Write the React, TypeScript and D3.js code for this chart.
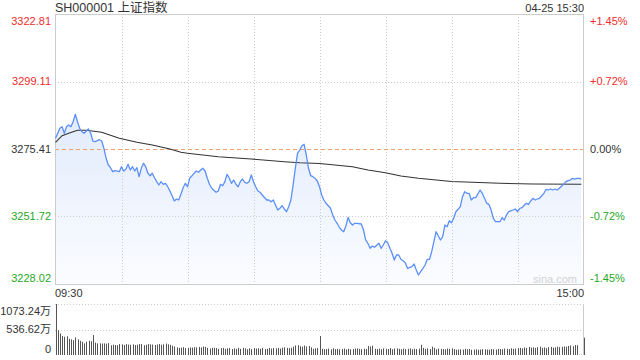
import * as d3 from 'd3';

const title = 'SH000001 上证指数';
const stamp = '04-25 15:30';
const priceTicks = [3322.81, 3299.11, 3275.41, 3251.72, 3228.02];
const pctTicks = ['+1.45%', '+0.72%', '0.00%', '-0.72%', '-1.45%'];
const timeTicks = ['09:30', '15:00'];
const volTicks = [1073.24, 536.62, 0];
const volLabels = ['1073.24万', '536.62万', '0'];
const prevClose = 3275.41;

// [minute since open, price]
const price: [number, number][] = [
  [0, 3279.17], [2, 3282.68], [3, 3283.24], [4, 3280.93], [5, 3283.24], [6, 3283.84], [7, 3283.24], [8, 3285.0], [9, 3287.6], [10, 3285.0],
  [11, 3282.68], [12, 3281.49], [13, 3280.93], [14, 3281.74], [15, 3282.44], [16, 3280.93], [17, 3278.22], [18, 3277.98], [20, 3278.68], [21, 3278.22],
  [22, 3275.66], [23, 3272.15], [24, 3269.8], [25, 3268.85], [26, 3267.45], [27, 3267.8], [29, 3267.45], [30, 3269.2], [31, 3267.69], [32, 3268.39],
  [33, 3270.04], [34, 3268.04], [35, 3269.2], [36, 3267.69], [37, 3268.85], [38, 3265.69], [39, 3268.64], [40, 3270.4], [41, 3269.2], [42, 3266.88],
  [43, 3266.04], [44, 3266.88], [45, 3265.34], [46, 3263.94], [47, 3262.78], [48, 3263.94], [49, 3263.02], [50, 3263.37], [51, 3262.18], [52, 3260.67],
  [53, 3259.02], [54, 3257.16], [55, 3257.86], [56, 3257.51], [57, 3259.51], [58, 3261.83], [59, 3263.37], [60, 3262.18],
  [61, 3265.13], [63, 3266.88], [64, 3267.69], [65, 3267.24], [66, 3268.04], [67, 3268.64], [68, 3267.69], [69, 3265.13], [70, 3263.02], [71, 3261.62],
  [73, 3260.21], [74, 3260.67], [75, 3263.02], [76, 3262.53], [77, 3263.94], [78, 3266.53], [79, 3265.13], [80, 3263.37], [81, 3264.53], [82, 3263.02],
  [83, 3262.18], [84, 3263.94], [85, 3264.88], [86, 3263.73], [87, 3263.37], [88, 3263.94], [89, 3266.29], [90, 3263.94], [91, 3262.18], [92, 3260.67],
  [93, 3260.22], [94, 3259.27], [96, 3257.51], [97, 3257.51], [98, 3256.91], [99, 3257.51], [100, 3255.76], [101, 3254.0], [102, 3254.6], [103, 3255.51],
  [104, 3254.35], [105, 3253.4], [106, 3255.16], [107, 3257.51], [108, 3262.78], [109, 3268.64], [110, 3273.91], [111, 3275.06], [112, 3276.57], [113, 3277.07],
  [114, 3273.31], [115, 3268.64], [116, 3266.04], [117, 3265.69], [118, 3265.13], [119, 3264.18], [120, 3262.18],
  [121, 3259.27], [122, 3257.51], [123, 3256.35], [125, 3254.6], [126, 3252.25], [127, 3250.49], [128, 3249.33], [129, 3247.93], [130, 3246.98], [131, 3246.38],
  [132, 3248.38], [133, 3251.44], [134, 3249.54], [135, 3248.73], [136, 3249.33], [137, 3249.33], [139, 3249.09], [140, 3246.98], [141, 3243.47], [142, 3242.31],
  [143, 3240.55], [144, 3241.36], [145, 3240.91], [147, 3242.31], [148, 3240.55], [149, 3241.71], [150, 3243.22], [151, 3242.52], [152, 3240.55], [153, 3238.8],
  [154, 3236.45], [155, 3238.2], [156, 3238.2], [157, 3236.69], [158, 3236.2], [159, 3235.5], [160, 3233.53], [162, 3234.09], [163, 3235.04], [164, 3232.94],
  [165, 3231.18], [166, 3232.34], [167, 3233.53], [168, 3234.69], [169, 3236.69], [170, 3236.69], [171, 3239.36], [172, 3242.87], [173, 3246.38], [174, 3244.87],
  [175, 3243.47], [176, 3244.63], [177, 3248.73], [178, 3248.14], [179, 3250.24], [180, 3249.54],
  [181, 3251.09], [182, 3253.4], [184, 3255.16], [185, 3258.67], [186, 3260.43], [187, 3259.86], [188, 3259.86], [189, 3257.51], [190, 3258.32], [191, 3258.32],
  [193, 3261.02], [194, 3259.86], [195, 3258.11], [196, 3256.35], [197, 3256.0], [198, 3254.0], [199, 3251.09], [200, 3249.89], [202, 3249.89], [203, 3251.3],
  [204, 3250.49], [205, 3252.25], [206, 3253.4], [208, 3254.0], [209, 3254.35], [210, 3253.4], [211, 3254.6], [212, 3254.81], [214, 3256.35], [215, 3256.0],
  [216, 3257.16], [217, 3258.11], [218, 3257.51], [219, 3257.86], [220, 3258.11], [222, 3259.86], [223, 3261.27], [224, 3261.02], [225, 3261.37], [226, 3261.02],
  [227, 3261.37], [228, 3261.02], [229, 3261.62], [231, 3263.02], [232, 3263.94], [233, 3264.29], [234, 3264.53], [235, 3265.13], [236, 3264.88], [237, 3265.13],
  [238, 3265.13], [239, 3264.88],
];

// average price line, [minute, price]
const avgPrice: [number, number][] = [
  [0, 3277.77], [3, 3280.09], [6, 3280.93], [10, 3281.98], [14, 3281.98], [21, 3281.28], [29, 3279.17], [37, 3277.77], [44, 3276.82],
  [52, 3275.42], [57, 3274.26], [60, 3273.91], [74, 3272.71], [89, 3271.9], [104, 3270.96], [111, 3270.61], [120, 3270.33],
  [135, 3269.2], [142, 3268.04], [150, 3267.1], [157, 3265.94], [165, 3265.13], [180, 3264.01], [202, 3263.37], [217, 3263.13], [239, 3263.02],
];

// volume per minute, 万
const volume = [
  1073.24,
  520, 450, 400, 385, 395, 340, 330, 315, 370, 330,
  300, 280, 245, 280, 300, 290, 420, 260, 245, 245,
  240, 245, 240, 250, 205, 215, 210, 205, 230, 225,
  210, 230, 220, 215, 225, 210, 215, 230, 230, 205,
  215, 230, 225, 220, 210, 220, 230, 215, 225, 240,
  225, 215, 195, 180, 160, 150, 155, 165, 145, 150,
  160, 155, 165, 160, 170, 160, 180, 170, 150, 135,
  150, 150, 145, 130, 145, 150, 130, 140, 145, 125,
  140, 130, 150, 130, 150, 140, 120, 140, 125, 145,
  135, 140, 130, 150, 125, 130, 150, 135, 145, 140,
  150, 135, 155, 160, 150, 140, 150, 175, 200, 205,
  185, 175, 200, 180, 190, 160, 130, 140, 145, 400,
  130, 120, 125, 135, 120, 140, 125, 130, 120, 125,
  135, 115, 130, 120, 125, 135, 140, 130, 125, 130,
  125, 190, 180, 195, 130, 125, 135, 120, 140, 130,
  125, 145, 120, 135, 140, 130, 120, 135, 125, 130,
  140, 120, 130, 125, 135, 215, 150, 130, 140, 125,
  175, 150, 120, 135, 130, 125, 120, 135, 130, 140,
  125, 110, 115, 120, 115, 130, 120, 125, 110, 115,
  120, 110, 115, 125, 120, 115, 110, 125, 120, 115,
  130, 125, 120, 135, 130, 125, 140, 130, 135, 145,
  150, 140, 160, 150, 170, 155, 160, 150, 165, 175,
  150, 160, 145, 165, 170, 155, 160, 175, 165, 170,
  180, 175, 190, 200, 185, 210, 205, 8, 6, 365,
];

const W = 640;
const H = 360;
const L = 55;
const R = 584;
const T = 14;
const B = 284;
const VT = 304;
const VB = 355;

const RED = '#f02c2c';
const GREEN = '#1fa81f';
const DARK = '#333';
const GRID = '#cccccc';
const FONT = '"Liberation Sans", Arial, "Noto Sans CJK SC", sans-serif';

export default function App() {
  const x = d3.scaleLinear().domain([0, 240]).range([L + 0.5, R - 0.5]);
  const y = d3.scaleLinear().domain([priceTicks[4], priceTicks[0]]).range([B, T]);
  const yv = d3.scaleLinear().domain([0, volTicks[0]]).range([VB, VT]);

  const line = d3.line<[number, number]>().x((d) => x(d[0])).y((d) => y(d[1]));
  const area = d3
    .area<[number, number]>()
    .x((d) => x(d[0]))
    .y0(B)
    .y1((d) => y(d[1]));

  const tone = (i: number) => (i < 2 ? RED : i > 2 ? GREEN : DARK);
  // labels at the edges sit inside the plot
  const labelY = (i: number) => (i === 0 ? T + 7 : i === 4 ? B - 6 : y(priceTicks[i]));
  const vLabelY = (i: number) => (i === 0 ? VT + 7 : i === 2 ? VB - 6 : yv(volTicks[i]));

  const vGrid = d3.range(30, 240, 30);

  return (
    <svg
      width={W}
      height={H}
      style={{ position: 'absolute', left: 0, top: 0, display: 'block' }}
      fontFamily={FONT}
    >
      <defs>
        <linearGradient id="fill" gradientUnits="userSpaceOnUse" x1="0" y1={T} x2="0" y2={B}>
          <stop offset="0" stopColor="#d3e2fb" />
          <stop offset="1" stopColor="#fbfcff" />
        </linearGradient>
      </defs>

      <rect x={0} y={0} width={W} height={H} fill="#fff" />

      <text x={L} y={8} dy="0.35em" fontSize={12.5} fill={DARK}>
        {title}
      </text>
      <text x={R} y={8} dy="0.35em" fontSize={11} fill={DARK} textAnchor="end">
        {stamp}
      </text>

      {/* price area */}
      <path d={area(price) ?? ''} fill="url(#fill)" />

      {vGrid.map((m) => (
        <line key={m} x1={Math.round(x(m)) + 0.5} x2={Math.round(x(m)) + 0.5} y1={T} y2={B} stroke={GRID} strokeDasharray="1,2" />
      ))}
      {[1, 3].map((i) => (
        <line key={i} x1={L} x2={R} y1={Math.round(y(priceTicks[i])) + 0.5} y2={Math.round(y(priceTicks[i])) + 0.5} stroke={GRID} strokeDasharray="1,2" />
      ))}
      <line x1={L} x2={R} y1={Math.round(y(prevClose)) + 0.5} y2={Math.round(y(prevClose)) + 0.5} stroke="#f0a070" strokeDasharray="4,3" />

      <rect x={L + 0.5} y={T + 0.5} width={R - L - 1} height={B - T} fill="none" stroke={GRID} />

      <text x={533} y={279} dy="0.35em" fontSize={11} fill="#d2d2d2">
        sina.com
      </text>

      <path d={line(avgPrice) ?? ''} fill="none" stroke="#333" strokeWidth={1.1} />
      <path d={line(price) ?? ''} fill="none" stroke="#5b8ff9" strokeWidth={1.3} strokeLinejoin="round" />

      {priceTicks.map((v, i) => (
        <text key={v} x={51} y={labelY(i)} dy="0.35em" fontSize={11} fill={tone(i)} textAnchor="end">
          {v.toFixed(2)}
        </text>
      ))}
      {pctTicks.map((p, i) => (
        <text key={p} x={590} y={labelY(i)} dy="0.35em" fontSize={11} fill={tone(i)}>
          {p}
        </text>
      ))}

      <text x={L} y={293} dy="0.35em" fontSize={11} fill={DARK}>
        {timeTicks[0]}
      </text>
      <text x={R} y={293} dy="0.35em" fontSize={11} fill={DARK} textAnchor="end">
        {timeTicks[1]}
      </text>

      {/* volume pane */}
      {[0, 1].map((i) => (
        <line key={i} x1={L} x2={R} y1={Math.round(yv(volTicks[i])) + 0.5} y2={Math.round(yv(volTicks[i])) + 0.5} stroke={GRID} strokeDasharray="1,2" />
      ))}
      <line x1={R - 0.5} x2={R - 0.5} y1={VT} y2={VB} stroke={GRID} />
      {volume.map((v, i) => (
        <rect key={i} x={Math.round(x(i)) } y={yv(v)} width={1} height={VB - yv(v)} fill="#555" />
      ))}
      {volLabels.map((t, i) => (
        <text key={t} x={51} y={vLabelY(i)} dy="0.35em" fontSize={11} fill={DARK} textAnchor="end">
          {t}
        </text>
      ))}
    </svg>
  );
}
